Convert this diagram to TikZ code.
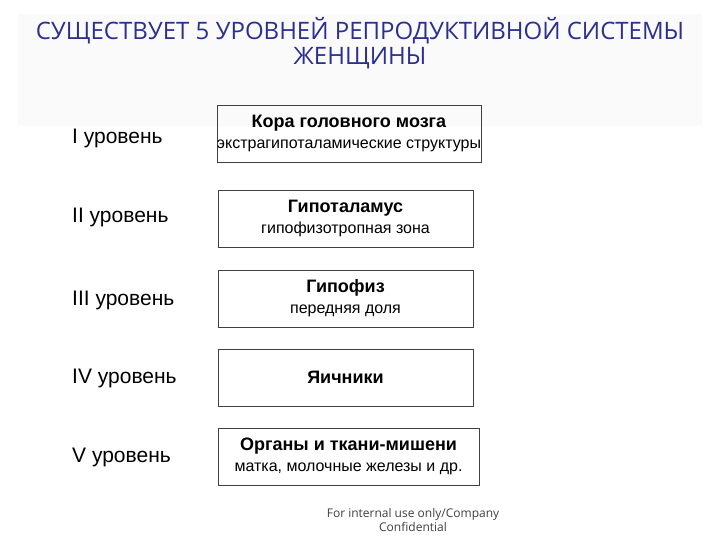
\documentclass[tikz,border=0pt]{standalone}
\usepackage{fontspec}
\setmainfont{Liberation Sans}
\newfontfamily\titlefont{Open Sans}
\usetikzlibrary{positioning}

\definecolor{titleblue}{HTML}{2B2F8E}
\definecolor{bandgray}{HTML}{FAFAFA}
\definecolor{framegray}{HTML}{404040}

\tikzset{
	level/.style={draw=framegray, line width=0.8pt, minimum height=57pt, inner sep=0pt, align=center, font=\fontsize{16}{21}\selectfont},
	levellabel/.style={anchor=west, inner sep=0pt, font=\fontsize{21}{24}\selectfont}
}

\begin{document}
\begin{tikzpicture}[x=1pt, y=-1pt]
	\useasboundingbox[fill=white] (0,0) rectangle (720,540);
	\fill[bandgray] (18,14) rectangle (702,126);

	% title
	\node[align=center, text=titleblue, font=\titlefont\fontsize{24}{25}\selectfont] (title) at (360,43)
		{СУЩЕСТВУЕТ 5 УРОВНЕЙ РЕПРОДУКТИВНОЙ СИСТЕМЫ\\ЖЕНЩИНЫ};

	% levels
	\node[level, minimum width=262pt] (cortex) at (349,133.5)
		{\textbf{\fontsize{18}{21}\selectfont Кора головного мозга}\\экстрагипоталамические структуры};
	\node[level, minimum width=255pt] (hypothal) at (345.5,218.5)
		{\textbf{\fontsize{18}{21}\selectfont Гипоталамус}\\гипофизотропная зона};
	\node[level, minimum width=255pt] (pituitary) at (345.5,298.5)
		{\textbf{\fontsize{18}{21}\selectfont Гипофиз}\\передняя доля};
	\node[level, minimum width=255pt] (ovaries) at (345.5,377.5)
		{\textbf{\fontsize{18}{21}\selectfont Яичники}};
	\node[level, minimum width=261pt] (targets) at (348.5,456.5)
		{\textbf{\fontsize{18}{21}\selectfont Органы и ткани-мишени}\\матка, молочные железы и др.};

	\node[levellabel] (lvl1) at (72,138) {I уровень};
	\node[levellabel] (lvl2) at (72,217) {II уровень};
	\node[levellabel] (lvl3) at (72,300) {III уровень};
	\node[levellabel] (lvl4) at (72,378) {IV уровень};
	\node[levellabel] (lvl5) at (72,457) {V уровень};

	% footer
	\node[align=center, text=black!75, font=\titlefont\fontsize{12}{14}\selectfont] (footer) at (413,520)
		{For internal use only/Company\\Confidential};
\end{tikzpicture}
\end{document}
